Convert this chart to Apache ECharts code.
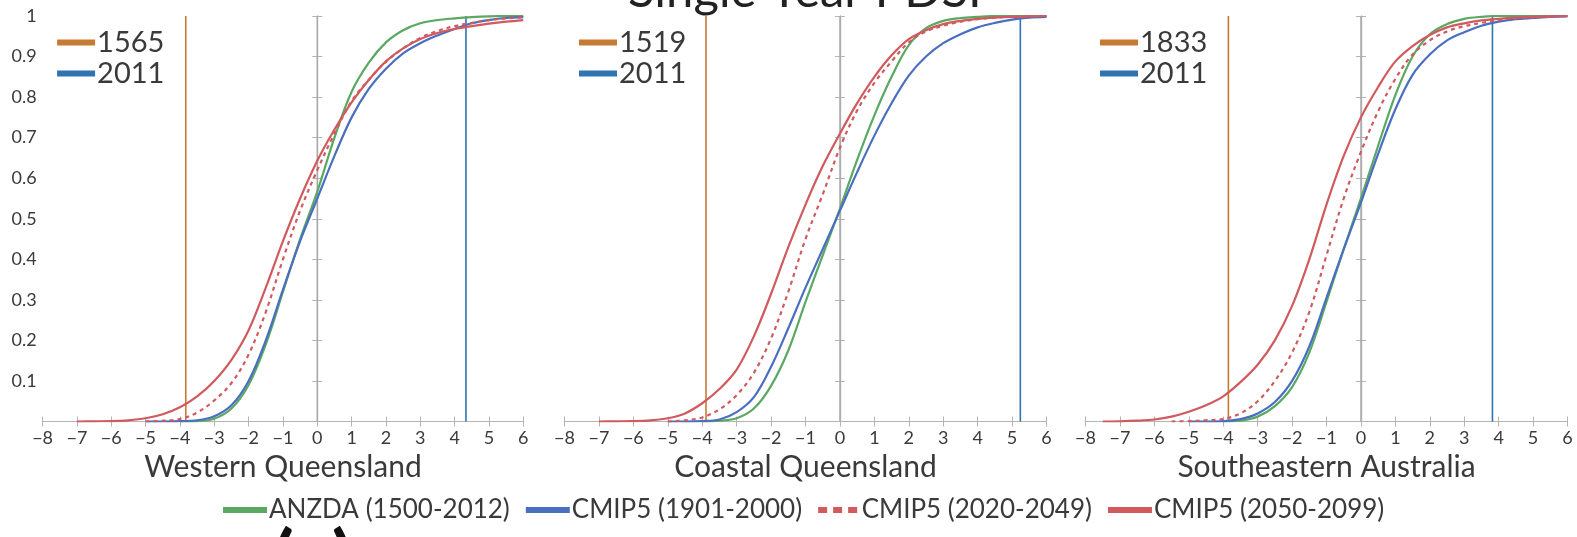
<!DOCTYPE html>
<html><head><meta charset="utf-8">
<script src="https://cdn.jsdelivr.net/npm/echarts@6/dist/echarts.min.js"></script>
<style>html,body{margin:0;padding:0;background:#fff}#c{width:1577px;height:537px}</style>
</head><body><div id="c"></div><script>
// ---- data ----
const xGrid = [-8,-7.5,-7,-6.5,-6,-5.5,-5,-4.5,-4,-3.5,-3,-2.5,-2,-1.5,-1,-0.5,0,0.5,1,1.5,2,2.5,3,3.5,4,4.5,5,5.5,6];
const xTickLabels = ['−8','−7','−6','−5','−4','−3','−2','−1','0','1','2','3','4','5','6'];
const yTickLabels = ['','0.1','0.2','0.3','0.4','0.5','0.6','0.7','0.8','0.9','1'];
const regions = ['Western Queensland','Coastal Queensland','Southeastern Australia'];
const seriesNames = ['ANZDA (1500-2012)','CMIP5 (1901-2000)','CMIP5 (2020-2049)','CMIP5 (2050-2099)'];
const eventYears = ['1565','1519','1833'];
const eventPdsi = [-3.83,-3.89,-3.85];
const recentYear = '2011';
const recentPdsi = [4.33,5.24,3.82];

// Western Queensland
const wqAnzda = [null,null,null,null,null,null,null,null,0,0.001,0.007,0.032,0.09,0.19,0.32,0.45,0.567,0.70,0.813,0.885,0.935,0.965,0.982,0.99,0.994,0.997,0.999,1.0,1.0];
const wqHist  = [null,null,null,null,null,null,0,0,0.001,0.003,0.013,0.04,0.10,0.20,0.325,0.445,0.55,0.655,0.75,0.82,0.87,0.908,0.933,0.952,0.968,0.982,0.99,0.995,0.997];
const wqNear  = [null,null,null,null,null,null,0,0.002,0.006,0.022,0.052,0.095,0.165,0.27,0.40,0.52,0.62,0.71,0.79,0.843,0.887,0.92,0.946,0.963,0.975,0.983,0.99,0.994,0.997];
const wqFar   = [null,null,0,0.0005,0.001,0.003,0.008,0.018,0.035,0.062,0.10,0.152,0.225,0.33,0.445,0.55,0.643,0.72,0.787,0.842,0.888,0.92,0.943,0.958,0.968,0.975,0.981,0.986,0.99];
// Coastal Queensland
const cqAnzda = [null,null,null,null,null,null,null,null,0,0.002,0.008,0.032,0.088,0.175,0.295,0.41,0.525,0.645,0.755,0.85,0.928,0.97,0.988,0.995,0.998,1,1,1,1];
const cqHist  = [null,null,null,null,null,null,0,0,0.001,0.005,0.023,0.06,0.135,0.23,0.33,0.425,0.52,0.615,0.705,0.785,0.853,0.9,0.933,0.955,0.972,0.983,0.991,0.996,0.998];
const cqNear  = [null,null,null,null,null,null,0,0.003,0.01,0.03,0.065,0.12,0.205,0.32,0.45,0.56,0.675,0.767,0.835,0.888,0.935,0.962,0.976,0.986,0.992,0.996,0.998,0.999,1.0];
const cqFar   = [null,null,0,0.0005,0.001,0.003,0.008,0.02,0.045,0.08,0.128,0.21,0.315,0.43,0.535,0.63,0.71,0.785,0.85,0.903,0.943,0.965,0.98,0.988,0.993,0.996,0.998,0.999,1.0];
// Southeastern Australia
const seAnzda = [null,null,null,null,null,null,null,null,0,0.002,0.012,0.038,0.085,0.17,0.295,0.425,0.55,0.68,0.805,0.9,0.955,0.98,0.993,0.998,1,1,1,1,1];
const seHist  = [null,null,null,null,null,null,0,0,0.001,0.006,0.02,0.048,0.10,0.185,0.305,0.425,0.54,0.66,0.77,0.855,0.905,0.94,0.96,0.976,0.986,0.992,0.995,0.998,0.999];
const seNear  = [null,null,null,null,null,0,0.001,0.003,0.006,0.02,0.05,0.10,0.17,0.27,0.41,0.55,0.665,0.765,0.845,0.905,0.94,0.962,0.975,0.983,0.99,0.994,0.997,0.999,1.0];
const seFar   = [null,0,0.0005,0.002,0.005,0.012,0.024,0.04,0.062,0.097,0.14,0.20,0.285,0.40,0.535,0.655,0.75,0.825,0.888,0.926,0.953,0.972,0.982,0.989,0.993,0.996,0.998,0.999,1.0];

const panelCurves = [
  [wqAnzda, wqHist, wqNear, wqFar],
  [cqAnzda, cqHist, cqNear, cqFar],
  [seAnzda, seHist, seNear, seFar]
];

// ---- styling / layout ----
const FONT = 'Lato';
const curveColors = ['#5aa862','#4a6fc0','#d05a5e','#d05a5e'];
const eventColor = '#c77a33';
const recentColor = '#2f74b0';
const axisGray = '#b4b4b4';
const textCol = '#3a3a3a';
const gridLefts = [42.6, 564.5, 1085.5];
const gridWidths = [480.7, 482, 482];
const gridTop = 16, gridHeight = 405.5;
const dashIcon = 'path://M0,0h9v6h-9z M15,0h9v6h-9z M30,0h9v6h-9z';

function pairs(ys){
  const out = [];
  ys.forEach((y,i)=>{ if(y!==null) out.push([xGrid[i], y]); });
  return out;
}

const grids = [], xAxes = [], yAxes = [], series = [], legends = [];
for (let p = 0; p < 3; p++) {
  grids.push({left: gridLefts[p], top: gridTop, width: gridWidths[p], height: gridHeight});
  const tick = {show: true, inside: true, length: 5, lineStyle: {color: axisGray}};
  const line = {show: true, lineStyle: {color: axisGray, width: 1.2}};
  xAxes.push({
    type: 'value', gridIndex: p, min: -8, max: 6, interval: 1, position: 'bottom',
    axisLine: line, axisTick: tick, splitLine: {show: false},
    axisLabel: {show: true, margin: 8, color: textCol, fontSize: 18, fontFamily: FONT,
      formatter: v => xTickLabels[v + 8]},
    name: regions[p], nameLocation: 'middle', nameGap: 31,
    nameTextStyle: {fontSize: 30, color: textCol, fontFamily: FONT, verticalAlign: 'top'}
  });
  xAxes.push({
    type: 'value', gridIndex: p, min: -8, max: 6, interval: 1, position: 'top',
    axisLine: line, axisTick: tick, axisLabel: {show: false}, splitLine: {show: false}
  });
  yAxes.push({
    type: 'value', gridIndex: p, min: 0, max: 1, interval: 0.1, position: 'left',
    axisLine: line, axisTick: tick, splitLine: {show: false},
    axisLabel: {show: p === 0, margin: 6, color: textCol, fontSize: 18, fontFamily: FONT,
      formatter: v => yTickLabels[Math.round(v * 10)]}
  });
  yAxes.push({
    type: 'value', gridIndex: p, min: 0, max: 1, interval: 0.1, position: 'right',
    axisLine: line, axisTick: tick, axisLabel: {show: false}, splitLine: {show: false}
  });
  const xi = 2 * p, yi = 2 * p;
  series.push({
    type: 'line', xAxisIndex: xi, yAxisIndex: yi, silent: true, symbol: 'none',
    data: [[0, 0], [0, 1]], lineStyle: {color: '#a8a8a8', width: 1.3}, z: 1
  });
  panelCurves[p].forEach((ys, k) => {
    series.push({
      name: seriesNames[k], type: 'line', xAxisIndex: xi, yAxisIndex: yi,
      data: pairs(ys), symbol: 'none', showSymbol: false, smooth: 0.35, clip: true,
      color: curveColors[k],
      lineStyle: {color: curveColors[k], width: 2.2, type: k === 2 ? [4, 4] : 'solid'},
      z: 3 + k
    });
  });
  series.push({
    name: eventYears[p], type: 'line', xAxisIndex: xi, yAxisIndex: yi, symbol: 'none',
    data: [[eventPdsi[p], 0], [eventPdsi[p], 1]], color: eventColor,
    lineStyle: {color: eventColor, width: 1.6}, z: 2
  });
  series.push({
    name: recentYear, type: 'line', xAxisIndex: xi, yAxisIndex: yi, symbol: 'none',
    data: [[recentPdsi[p], 0], [recentPdsi[p], 1]], color: recentColor,
    lineStyle: {color: recentColor, width: 1.6}, z: 2
  });
  legends.push({
    orient: 'vertical', left: gridLefts[p] + 14.5, top: 27, padding: 0, itemGap: 0,
    icon: 'rect', itemWidth: 38, itemHeight: 6, selectedMode: false,
    data: [eventYears[p], recentYear],
    textStyle: {fontSize: 29, lineHeight: 31, color: textCol, fontFamily: FONT, padding: [0, 0, 0, -3]}
  });
}
legends.push({
  orient: 'horizontal', left: 223, top: 495, padding: 0, itemGap: 16,
  itemWidth: 44, itemHeight: 6, selectedMode: false,
  data: seriesNames.map((n, k) => ({name: n, icon: k === 2 ? dashIcon : 'rect'})),
  textStyle: {fontSize: 26, lineHeight: 30, color: textCol, fontFamily: FONT, padding: [0, 0, 0, -3]}
});

const chart = echarts.init(document.getElementById('c'), null, {renderer: 'canvas'});
chart.setOption({
  animation: false,
  backgroundColor: '#fff',
  textStyle: {fontFamily: FONT},
  grid: grids, xAxis: xAxes, yAxis: yAxes, series: series, legend: legends,
  graphic: [
    {type: 'text', left: 628, top: -33, style: {text: 'Single Year PDSI', font: '49px Lato', fill: '#222'}},
    {type: 'text', left: 272, top: 523, style: {text: '(a)', font: 'bold 80px Lato', fill: '#111'}}
  ]
});
</script></body></html>
